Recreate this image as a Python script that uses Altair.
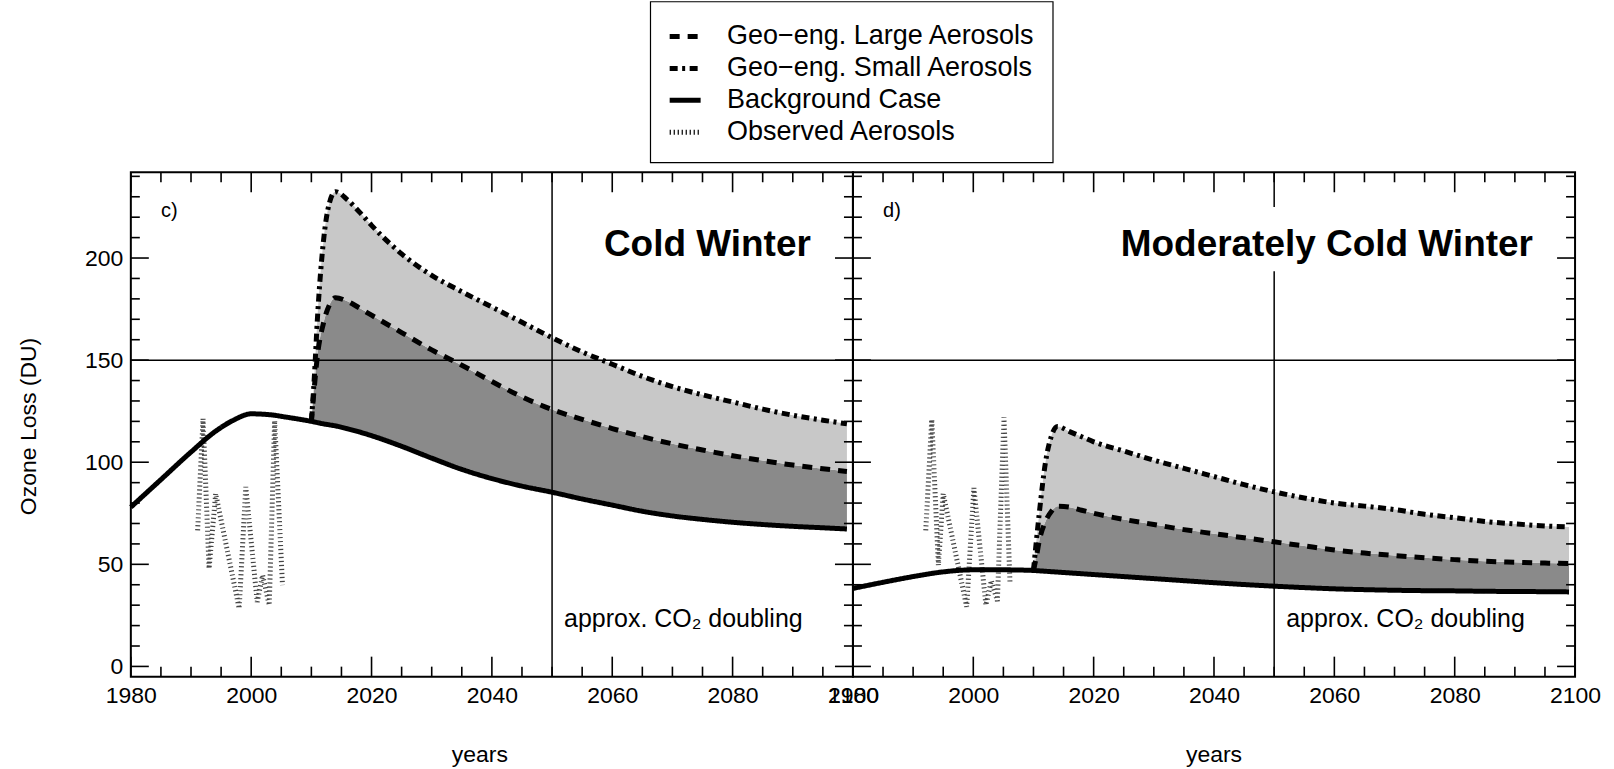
import altair as alt
import pandas as pd

SERIES = ["Geo−eng. Large Aerosols", "Geo−eng. Small Aerosols",
          "Background Case", "Observed Aerosols"]
DASHES = [[10, 8], [8, 4.5, 3, 4.5], [1, 0], [1.2, 2.8]]
WIDTHS = [5, 5, 6, 1.6]

# ---- panel c) Cold Winter ----
bg_years_early_c = [1980, 1985, 1990, 1994, 1997, 2000, 2003, 2006]
bg_early_c = [78, 91.5, 105, 115, 120.5, 123.7, 123.3, 122]

geo_years = [2010, 2010.5, 2011, 2012, 2013, 2014, 2016, 2018, 2020, 2025,
             2030, 2035, 2040, 2045, 2050, 2055, 2060, 2065, 2070, 2075,
             2080, 2085, 2090, 2095, 2099]

bg_geo_c = [120, 119.7, 119.4, 118.8, 118.3, 117.8, 116.4, 114.8, 113, 107.8,
            102, 96.5, 92, 88.3, 85.3, 82, 79, 76, 73.7, 72,
            70.6, 69.5, 68.6, 67.9, 67.3]
large_c = [120, 137, 152, 168, 177, 180.5, 178.8, 175.5, 172, 163.5,
           155, 147.5, 139.5, 132, 125.8, 121, 116.5, 112.5, 109, 106,
           103.2, 100.8, 98.6, 96.8, 95.5]
small_c = [120, 142, 170, 208, 227, 232.5, 228.5, 222.5, 216, 202,
           191.5, 183.5, 176, 168.5, 161, 154, 148, 142, 137, 133,
           129.5, 126, 123, 120.6, 118.8]

obs_years_c = [1991.1, 1992.0, 1993.0, 1994.1, 1998.0, 1999.1, 2001.0,
               2001.9, 2003.0, 2003.9, 2005.2]
obs_c = [66.6, 121.3, 47.9, 84.6, 28.4, 87.9, 31.6, 44.7, 30.0, 120.4, 39.8]

# ---- panel d) Moderately Cold Winter ----
bg_years_early_d = [1980, 1985, 1990, 1995, 2000, 2005]
bg_early_d = [38.2, 41.2, 44, 46.3, 47.3, 47.3]

bg_geo_d = [47, 46.9, 46.8, 46.6, 46.4, 46.2, 45.8, 45.4, 45, 44,
            43, 42, 41, 40.1, 39.3, 38.6, 38, 37.6, 37.3, 37.1,
            37, 36.8, 36.7, 36.6, 36.5]
large_d = [47, 54, 62, 71, 76, 78.5, 78, 76.5, 75, 72,
           69.5, 67, 65, 63, 61, 59, 57, 55.5, 54.3, 53.2,
           52.3, 51.5, 51, 50.6, 50.4]
small_d = [47, 62, 76, 100, 113, 117.5, 115, 112.5, 110, 105.5,
           101, 97, 93, 89, 85.5, 82.5, 80, 78.5, 76.8, 74.5,
           72.8, 71, 69.8, 68.8, 68.3]

obs_years_d = [1992.1, 1993.1, 1994.2, 1995.0, 1998.9, 2000.1, 2002.1,
               2003.0, 2004.0, 2005.1, 2006.1]
obs_d = [66.6, 120.9, 49.5, 84.6, 29.2, 87.4, 30.0, 42.0, 32.0, 122.0, 40.6]

# ---- axes ----
X_DOMAIN = [1980, 2100]
Y_DOMAIN = [-5, 242]
X_MAJOR = [1980, 2000, 2020, 2040, 2060, 2080, 2100]
X_MINOR = [y for y in range(1980, 2101, 5) if y not in X_MAJOR]
Y_MAJOR = [0, 50, 100, 150, 200]
Y_MINOR = [v for v in range(0, 241, 10) if v not in Y_MAJOR]

W, H = 723, 505
FONT = "Liberation Sans"
DARK = "#8a8a8a"
LIGHT = "#c8c8c8"

xs = alt.Scale(domain=X_DOMAIN, nice=False, zero=False)
ys = alt.Scale(domain=Y_DOMAIN, nice=False, zero=False)

legend = alt.Legend(
    title=None, orient="none", legendX=520, legendY=-171,
    symbolType="stroke", symbolSize=961, symbolStrokeColor="black",
    labelFont=FONT, labelFontSize=27, labelColor="black", labelOffset=24,
    labelLimit=600, rowPadding=1, padding=17, strokeColor="black",
    fillColor="white", cornerRadius=0,
)


def panel(tag, title, bg_years, bg_vals, bg_geo, large, small,
          obs_years, obs_vals, box_x, show_y, xtitle_shift):
    x_axis = alt.Axis(values=X_MAJOR, format="d", ticks=False, tickSize=0,
                      domain=False, grid=False, labelPadding=8,
                      labelFlush=False, labelOverlap=False, labelBound=False,
                      title=None)
    if show_y:
        y_axis = alt.Axis(values=Y_MAJOR, ticks=False, tickSize=0,
                          domain=False, grid=False, labelPadding=8,
                          labelFlush=False, labelOverlap=False, title=None)
    else:
        y_axis = None

    def X(field):
        return alt.X(field, scale=xs, axis=x_axis)

    def Y(field):
        return alt.Y(field, scale=ys, axis=y_axis)

    geo = pd.DataFrame({"year": geo_years, "bg": bg_geo,
                        "large": large, "small": small})

    dark = alt.Chart(geo).mark_area(color=DARK, interpolate="monotone").encode(
        x=X("year:Q"), y=Y("bg:Q"), y2="large:Q")
    light = alt.Chart(geo).mark_area(color=LIGHT, interpolate="monotone").encode(
        x=X("year:Q"), y=Y("large:Q"), y2="small:Q")

    hline = alt.Chart(pd.DataFrame({"v": [150]})).mark_rule(
        color="black", strokeWidth=1.5).encode(y=Y("v:Q"))
    vline = alt.Chart(pd.DataFrame({"yr": [2050]})).mark_rule(
        color="black", strokeWidth=1.5).encode(x=X("yr:Q"))

    # series lines, drawn back to front
    rows = []
    for yv, vv in zip(obs_years, obs_vals):
        rows.append((SERIES[3], yv, vv))
    for yv, vv in zip(bg_years + geo_years, bg_vals + bg_geo):
        rows.append((SERIES[2], yv, vv))
    for yv, vv in zip(geo_years, large):
        rows.append((SERIES[0], yv, vv))
    for yv, vv in zip(geo_years, small):
        rows.append((SERIES[1], yv, vv))
    lines_df = pd.DataFrame(rows, columns=["series", "year", "value"])

    line_layers = []
    for name in [SERIES[3], SERIES[2], SERIES[0], SERIES[1]]:
        interp = "linear" if name == SERIES[3] else "monotone"
        color = "#444444" if name == SERIES[3] else "black"
        line_layers.append(
            alt.Chart(lines_df[lines_df["series"] == name]).mark_line(
                color=color, interpolate=interp, strokeCap="butt").encode(
                x=X("year:Q"), y=Y("value:Q"),
                strokeDash=alt.StrokeDash(
                    "series:N", scale=alt.Scale(domain=SERIES, range=DASHES),
                    legend=legend),
                strokeWidth=alt.StrokeWidth(
                    "series:N", scale=alt.Scale(domain=SERIES, range=WIDTHS),
                    legend=legend),
                order=alt.Order("year:Q"),
            )
        )

    # white backing behind the panel heading
    box = alt.Chart(pd.DataFrame({"x1": [box_x[0]], "x2": [box_x[1]],
                                  "y1": [193.5], "y2": [225]})).mark_rect(
        color="white").encode(x=X("x1:Q"), x2="x2:Q", y=Y("y1:Q"), y2="y2:Q")

    heading = alt.Chart(pd.DataFrame({"year": [2093], "value": [201],
                                      "t": [title]})).mark_text(
        align="right", baseline="alphabetic", font=FONT, fontSize=37,
        fontWeight="bold", color="black").encode(
        x=X("year:Q"), y=Y("value:Q"), text="t:N")

    tag_text = alt.Chart(pd.DataFrame({"year": [1985], "value": [223],
                                       "t": [tag]})).mark_text(
        align="left", baseline="middle", font=FONT, fontSize=20,
        color="black").encode(x=X("year:Q"), y=Y("value:Q"), text="t:N")

    co2 = alt.Chart(pd.DataFrame({"year": [2052], "value": [23],
                                  "t": ["approx. CO₂ doubling"]})).mark_text(
        align="left", baseline="middle", font=FONT, fontSize=25,
        color="black").encode(x=X("year:Q"), y=Y("value:Q"), text="t:N")

    # axis titles
    titles = [alt.Chart(pd.DataFrame({"t": ["years"]})).mark_text(
        align="center", baseline="middle", font=FONT, fontSize=23,
        color="black").encode(x=alt.value(W / 2 + xtitle_shift),
                              y=alt.value(H + 78), text="t:N")]
    if show_y:
        titles.append(alt.Chart(pd.DataFrame({"t": ["Ozone Loss (DU)"]})).mark_text(
            align="center", baseline="middle", font=FONT, fontSize=23,
            angle=270, color="black").encode(
            x=alt.value(-102), y=alt.value(H / 2 + 2), text="t:N"))

    # inward-pointing tick marks on all four sides
    ticks = []
    for vals, L in ((X_MAJOR, 20), (X_MINOR, 10)):
        base = alt.Chart(pd.DataFrame({"t": vals})).mark_rule(
            color="black", strokeWidth=1.6)
        ticks.append(base.encode(x=X("t:Q"), y=alt.value(0), y2=alt.value(L)))
        ticks.append(base.encode(x=X("t:Q"), y=alt.value(H),
                                 y2=alt.value(H - L)))
    for vals, L in ((Y_MAJOR, 18), (Y_MINOR, 9)):
        base = alt.Chart(pd.DataFrame({"t": vals})).mark_rule(
            color="black", strokeWidth=1.6)
        ticks.append(base.encode(y=Y("t:Q"), x=alt.value(0), x2=alt.value(L)))
        ticks.append(base.encode(y=Y("t:Q"), x=alt.value(W),
                                 x2=alt.value(W - L)))

    return alt.layer(dark, light, hline, vline, *line_layers, box, heading,
                     tag_text, co2, *titles, *ticks).properties(width=W, height=H)


left = panel("c)", "Cold Winter", bg_years_early_c, bg_early_c, bg_geo_c,
             large_c, small_c, obs_years_c, obs_c, (2057, 2095), True, -12)
right = panel("d)", "Moderately Cold Winter", bg_years_early_d, bg_early_d,
              bg_geo_d, large_d, small_d, obs_years_d, obs_d, (2021.5, 2094),
              False, 0)

chart = alt.hconcat(left, right, spacing=0, bounds="flush").resolve_scale(
    strokeDash="shared", strokeWidth="shared"
).properties(
    padding={"left": 17, "top": 0, "right": 12, "bottom": 0},
    background="white",
).configure_view(
    stroke="black", strokeWidth=2
).configure_axis(
    labelFont=FONT, labelFontSize=23, labelColor="black",
).configure_legend(
    strokeWidth=1.2
)

chart.save("out.html", embed_options={"renderer": "svg", "actions": False})
